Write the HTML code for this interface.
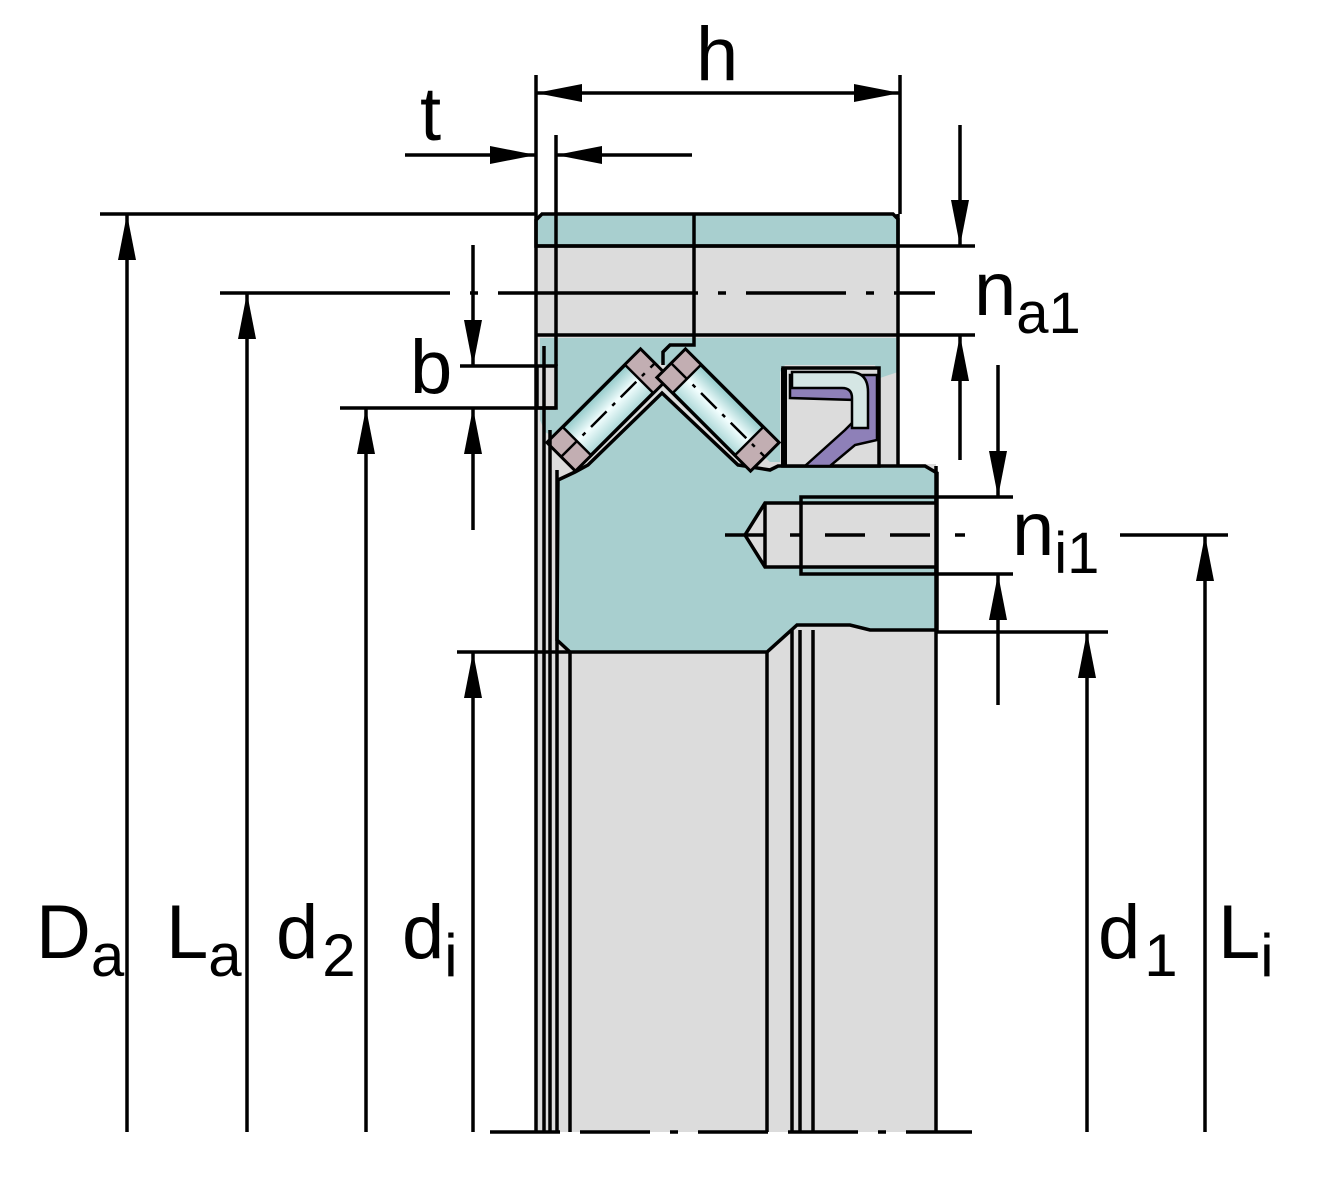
<!DOCTYPE html>
<html><head><meta charset="utf-8"><style>html,body{margin:0;padding:0;background:#fff}svg{display:block}</style></head>
<body>
<svg width="1330" height="1200" viewBox="0 0 1330 1200" xmlns="http://www.w3.org/2000/svg" font-family="Liberation Sans, sans-serif">
<defs>
<marker id="ar" viewBox="0 0 46 18" refX="46" refY="9" markerWidth="46" markerHeight="18" markerUnits="userSpaceOnUse" orient="auto">
<path d="M0,0 L46,9 L0,18 z" fill="#000"/></marker>
<linearGradient id="rg" x1="0" y1="0" x2="0" y2="1"><stop offset="0" stop-color="#8fc7c7"/><stop offset="0.5" stop-color="#f4ffff"/><stop offset="1" stop-color="#a9d6d6"/></linearGradient>
</defs>
<rect x="536" y="214" width="400" height="918" fill="#dcdcdc"/>
<rect x="898" y="214" width="40" height="250" fill="#fff"/>
<rect x="936" y="630" width="4" height="502" fill="#fff"/>
<path d="M542,214 L893,214 L898,219 L898,246 L536,246 L536,220 Z" fill="#a8cfcf" stroke="#000" stroke-width="3.5"/>
<path d="M540,338 L898,338 L898,372 L880,378 L875,365 L785,365 L780,372 L780,462 L770,462 L662,362 L560,440 L545,432 L540,420 Z" fill="#a8cfcf"/>
<rect x="537" y="366" width="19" height="42" fill="#dcdcdc" stroke="#000" stroke-width="3.5"/>
<path d="M558,480 L575,472 L588,465 L662,393 L738,465 L770,470 L778,466 L925,466 L937,473 L937,630 L870,630 L850,625 L797,625 L767,652 L570,652 L557,640 Z" fill="#a8cfcf" stroke="#000" stroke-width="3.5"/>
<g transform="translate(608,410) rotate(-45)">
<rect x="-66" y="-20" width="132" height="40" fill="url(#rg)" stroke="#000" stroke-width="3.5"/>
<rect x="-66" y="-20" width="22" height="40" fill="#c2aeb2" stroke="#000" stroke-width="2.5"/>
<rect x="44" y="-20" width="22" height="40" fill="#c2aeb2" stroke="#000" stroke-width="2.5"/>
<line x1="-66" y1="0" x2="66" y2="0" stroke="#000" stroke-width="2.5" stroke-dasharray="22,8,4,8"/>
</g>
<g transform="translate(718,410) rotate(45)">
<rect x="-66" y="-20" width="132" height="40" fill="url(#rg)" stroke="#000" stroke-width="3.5"/>
<rect x="-66" y="-20" width="22" height="40" fill="#c2aeb2" stroke="#000" stroke-width="2.5"/>
<rect x="44" y="-20" width="22" height="40" fill="#c2aeb2" stroke="#000" stroke-width="2.5"/>
<line x1="-66" y1="0" x2="66" y2="0" stroke="#000" stroke-width="2.5" stroke-dasharray="22,8,4,8"/>
</g>
<rect x="783" y="368" width="96" height="98" fill="#dcdcdc" stroke="#000" stroke-width="3.5"/>
<path d="M790,375 L877,375 L877,440 L855,445 L830,466 L805,466 L845,430 L855,420 L855,400 L790,398 Z" fill="#8e80b8" stroke="#000" stroke-width="2.5"/>
<path d="M792,372 L850,372 Q868,372 868,392 L868,428 L852,428 L852,398 Q852,388 842,388 L792,388 Z" fill="#d5e6e4" stroke="#000" stroke-width="2.5"/>
<line x1="784" y1="368" x2="784" y2="466" stroke="#000" stroke-width="6"/>
<path d="M536,214 L536,1132 M544,346 L544,1132 M550,430 L550,1132 M557,470 L557,1132 M570,652 L570,1132 M767,652 L767,1132 M792,630 L792,1132 M800,630 L800,1132 M813,630 L813,1132 M936,466 L936,1132" stroke="#000" stroke-width="3.5" fill="none"/>
<path d="M536,246 L898,246 M536,335 L898,335 M694,214 L694,345 L670,345 L663,352 L663,365 M898,214 L898,465" stroke="#000" stroke-width="3.5" fill="none"/>
<path d="M936,503 L765,503 L745,535 L765,567 L936,567" fill="#dcdcdc" stroke="#000" stroke-width="3.5"/>
<line x1="765" y1="503" x2="765" y2="567" stroke="#000" stroke-width="3.5"/>
<rect x="801" y="497" width="135" height="77" fill="none" stroke="#000" stroke-width="3.5"/>
<line x1="220" y1="293" x2="935" y2="293" stroke="#000" stroke-width="3.5" stroke-dasharray="230,20,8,20,200,20,8,20,100,20,8,20"/>
<line x1="725" y1="535" x2="985" y2="535" stroke="#000" stroke-width="3.5" stroke-dasharray="40,25,10,25,40,25"/>
<line x1="490" y1="1132" x2="972" y2="1132" stroke="#000" stroke-width="3.5" stroke-dasharray="70,20,70,20,8,20"/>
<g stroke="#000" stroke-width="3.5" fill="none">
<line x1="536" y1="75" x2="536" y2="214"/><line x1="900" y1="75" x2="900" y2="214"/>
<line x1="556" y1="135" x2="556" y2="366"/>
<line x1="718" y1="93" x2="536" y2="93" marker-end="url(#ar)"/>
<line x1="718" y1="93" x2="900" y2="93" marker-end="url(#ar)"/>
<line x1="405" y1="155" x2="536" y2="155" marker-end="url(#ar)"/>
<line x1="692" y1="155" x2="556" y2="155" marker-end="url(#ar)"/>
<line x1="100" y1="214" x2="536" y2="214"/>
<line x1="127" y1="1132" x2="127" y2="214" marker-end="url(#ar)"/>
<line x1="247" y1="1132" x2="247" y2="293" marker-end="url(#ar)"/>
<line x1="340" y1="408" x2="556" y2="408"/>
<line x1="366" y1="1132" x2="366" y2="408" marker-end="url(#ar)"/>
<line x1="457" y1="652" x2="570" y2="652"/>
<line x1="473" y1="1132" x2="473" y2="652" marker-end="url(#ar)"/>
<line x1="460" y1="366" x2="537" y2="366"/>
<line x1="473" y1="245" x2="473" y2="366" marker-end="url(#ar)"/>
<line x1="473" y1="530" x2="473" y2="408" marker-end="url(#ar)"/>
<line x1="898" y1="246" x2="975" y2="246"/><line x1="898" y1="335" x2="975" y2="335"/>
<line x1="960" y1="125" x2="960" y2="246" marker-end="url(#ar)"/>
<line x1="960" y1="460" x2="960" y2="335" marker-end="url(#ar)"/>
<line x1="936" y1="497" x2="1013" y2="497"/><line x1="936" y1="574" x2="1013" y2="574"/>
<line x1="998" y1="365" x2="998" y2="497" marker-end="url(#ar)"/>
<line x1="998" y1="705" x2="998" y2="574" marker-end="url(#ar)"/>
<line x1="936" y1="632" x2="1108" y2="632"/>
<line x1="1087" y1="1132" x2="1087" y2="632" marker-end="url(#ar)"/>
<line x1="1120" y1="535" x2="1228" y2="535"/>
<line x1="1205" y1="1132" x2="1205" y2="535" marker-end="url(#ar)"/>
</g>
<g fill="#000" font-size="76">
<text x="696" y="80">h</text>
<text x="420" y="140">t</text>
<text x="410" y="393">b</text>
<text x="974" y="315">n<tspan font-size="58" dy="18">a1</tspan></text>
<text x="1012" y="555">n<tspan font-size="58" dy="18">i1</tspan></text>
<text x="36" y="958">D<tspan font-size="60" dy="18">a</tspan></text>
<text x="166" y="958">L<tspan font-size="60" dy="18">a</tspan></text>
<text x="276" y="958">d<tspan font-size="60" dy="18" dx="4">2</tspan></text>
<text x="402" y="958">d<tspan font-size="60" dy="18">i</tspan></text>
<text x="1098" y="958">d<tspan font-size="60" dy="18" dx="4">1</tspan></text>
<text x="1218" y="958">L<tspan font-size="60" dy="18">i</tspan></text>
</g>
</svg>
</body></html>
